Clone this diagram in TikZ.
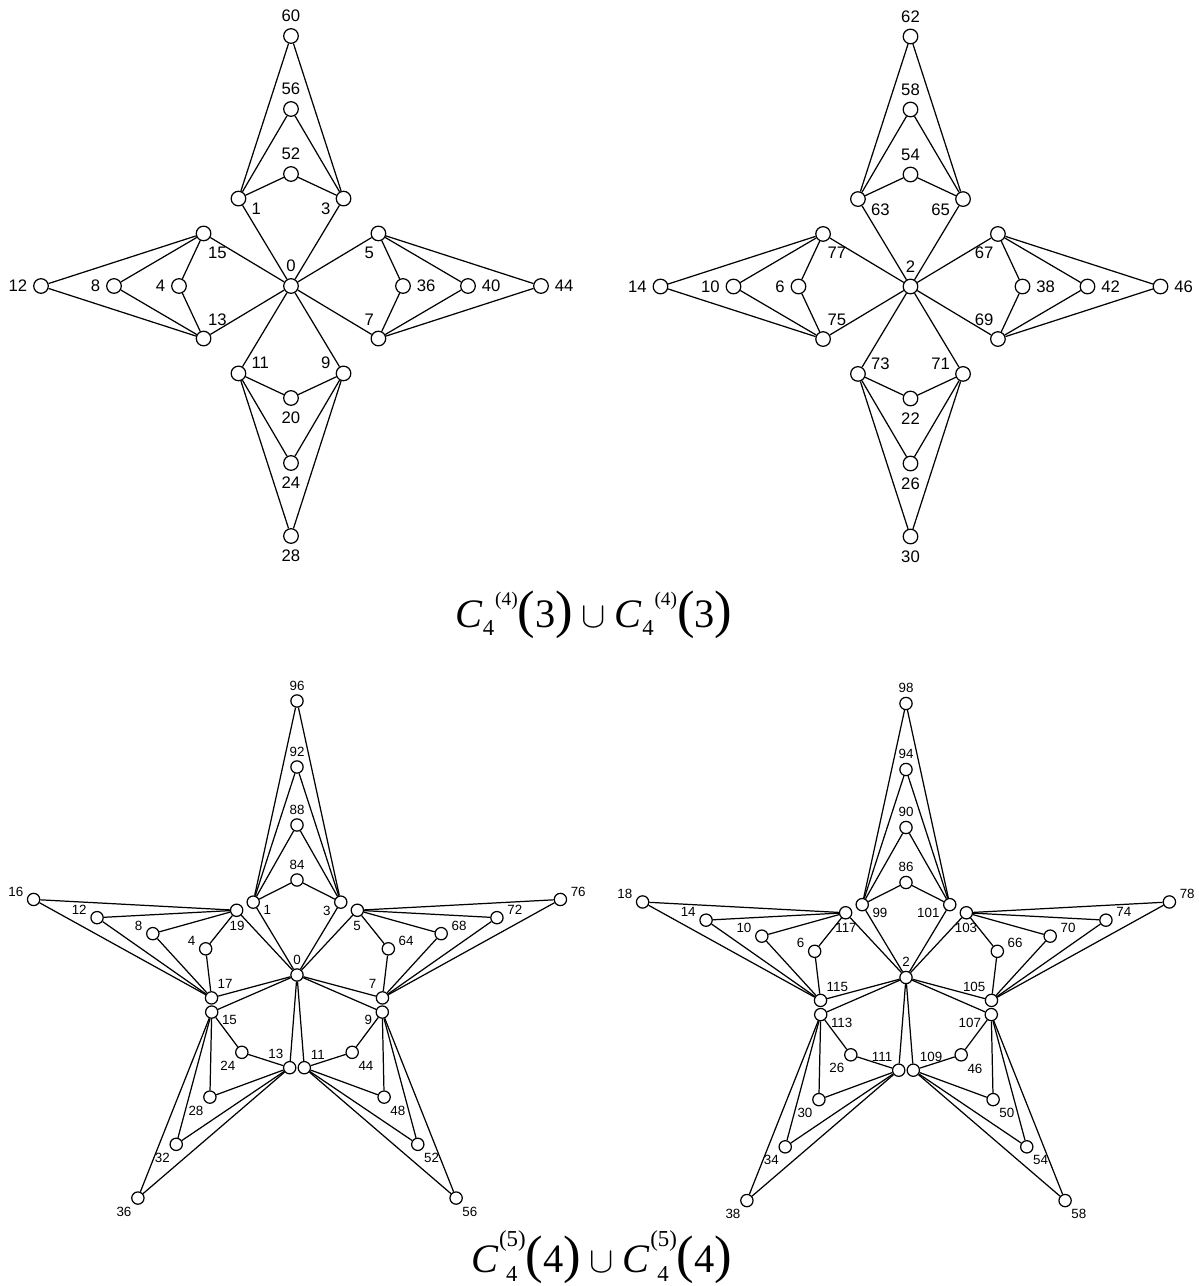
\documentclass[tikz,border=0pt]{standalone}
\usepackage{fontspec}
\setmainfont{Liberation Sans}
\newfontfamily\capfont{Liberation Serif}

\begin{document}
\begin{tikzpicture}[
  x=0.02cm, y=0.02cm,
  vt/.style={circle, draw, fill=white, line width=0.7pt, minimum size=8.3pt, inner sep=0pt},
  vs/.style={vt, minimum size=7pt},
  ed/.style={line width=0.7pt},
  lt/.style={font=\fontsize{9.5}{11}\selectfont, inner sep=0pt, label distance=3.2pt},
  ls/.style={font=\fontsize{7.6}{9}\selectfont, inner sep=0pt, label distance=2.1pt},
  capt/.style={font=\capfont\fontsize{23}{26}\selectfont, inner sep=0pt},
]
\useasboundingbox (0,0) rectangle (1199,1286);
% one arm: #1 graph, #2 axis angle, #3/#4 side nodes, #5 their radius, #6 outer nodes num/radius
\newcommand{\starArm}[6]{%
  \pgfmathsetmacro\angA{#2+31}\pgfmathsetmacro\angB{#2-31}%
  \pgfmathsetmacro\labA{#2-108}\pgfmathsetmacro\labB{#2+108}%
  \node[vx, label={[lx]\labA:#3}] (#1#3) at (\angA:#5) {};
  \node[vx, label={[lx]\labB:#4}] (#1#4) at (\angB:#5) {};
  \draw[ed] (#1c) -- (#1#3) (#1c) -- (#1#4);
  \foreach \n/\r in {#6}{
    \node[vx, label={[lx]#2:\n}] (#1\n) at (#2:\r) {};
    \draw[ed] (#1#3) -- (#1\n) -- (#1#4);
  }}
\newcommand{\bigpar}[1]{{\fontsize{30}{30}\selectfont(}#1{\fontsize{30}{30}\selectfont)}}
\newcommand{\capone}[1]{\textit{C}\raisebox{-4pt}{\fontsize{13}{13}\selectfont 4}%
  \kern0.5pt\raisebox{13pt}{\fontsize{11}{11}\selectfont(4)}\bigpar{#1}}
\newcommand{\captwo}[1]{\textit{C}\makebox[0pt][l]{\kern4pt\raisebox{-5pt}{\fontsize{13}{13}\selectfont 4}}%
  \raisebox{15pt}{\fontsize{13}{13}\selectfont(5)}\bigpar{#1}}
\newcommand{\capcup}{\hspace{5pt}{\fontsize{22}{22}\selectfont$\cup$}\hspace{5pt}}
% ---------------- top left ----------------
\begin{scope}[shift={(291,1000)}, vx/.style={vt}, lx/.style={lt}]
  \node[vx, label={[lx]90:0}] (ac) at (0,0) {};
  \starArm{a}{90}{1}{3}{102}{52/112,56/177,60/250}
  \starArm{a}{180}{13}{15}{102}{4/112,8/177,12/250}
  \starArm{a}{270}{9}{11}{102}{20/112,24/177,28/250}
  \starArm{a}{0}{5}{7}{102}{36/112,40/177,44/250}
\end{scope}
% ---------------- top right ----------------
\begin{scope}[shift={(910.5,999.5)}, vx/.style={vt}, lx/.style={lt}]
  \node[vx, label={[lx]90:2}] (bc) at (0,0) {};
  \starArm{b}{90}{63}{65}{102}{54/112,58/177,62/250}
  \starArm{b}{180}{75}{77}{102}{6/112,10/177,14/250}
  \starArm{b}{270}{71}{73}{102}{22/112,26/177,30/250}
  \starArm{b}{0}{67}{69}{102}{38/112,42/177,46/250}
\end{scope}
\node[capt, anchor=base] (capA) at (594,658) {\capone{3}\capcup\capone{3}};
% ---------------- bottom left ----------------
\begin{scope}[shift={(297,311)}, vx/.style={vs}, lx/.style={ls}]
  \node[vx, label={[lx]90:0}] (cc) at (0,0) {};
  \starArm{c}{90}{1}{3}{85}{84/95,88/150,92/208,96/274}
  \starArm{c}{164}{17}{19}{88.5}{4/95,8/150,12/208,16/274}
  \starArm{c}{234.5}{13}{15}{93}{24/95,28/150,32/208,36/274}
  \starArm{c}{305.5}{9}{11}{93}{44/95,48/150,52/208,56/274}
  \starArm{c}{16}{5}{7}{88.5}{64/95,68/150,72/208,76/274}
\end{scope}
% ---------------- bottom right ----------------
\begin{scope}[shift={(906,308.5)}, vx/.style={vs}, lx/.style={ls}]
  \node[vx, label={[lx]90:2}] (dc) at (0,0) {};
  \starArm{d}{90}{99}{101}{85}{86/95,90/150,94/208,98/274}
  \starArm{d}{164}{115}{117}{88.5}{6/95,10/150,14/208,18/274}
  \starArm{d}{234.5}{111}{113}{93}{26/95,30/150,34/208,38/274}
  \starArm{d}{305.5}{107}{109}{93}{46/95,50/150,54/208,58/274}
  \starArm{d}{16}{103}{105}{88.5}{66/95,70/150,74/208,78/274}
\end{scope}
\node[capt, anchor=base] (capB) at (602,13) {\captwo{4}\capcup\captwo{4}};
\end{tikzpicture}
\end{document}
